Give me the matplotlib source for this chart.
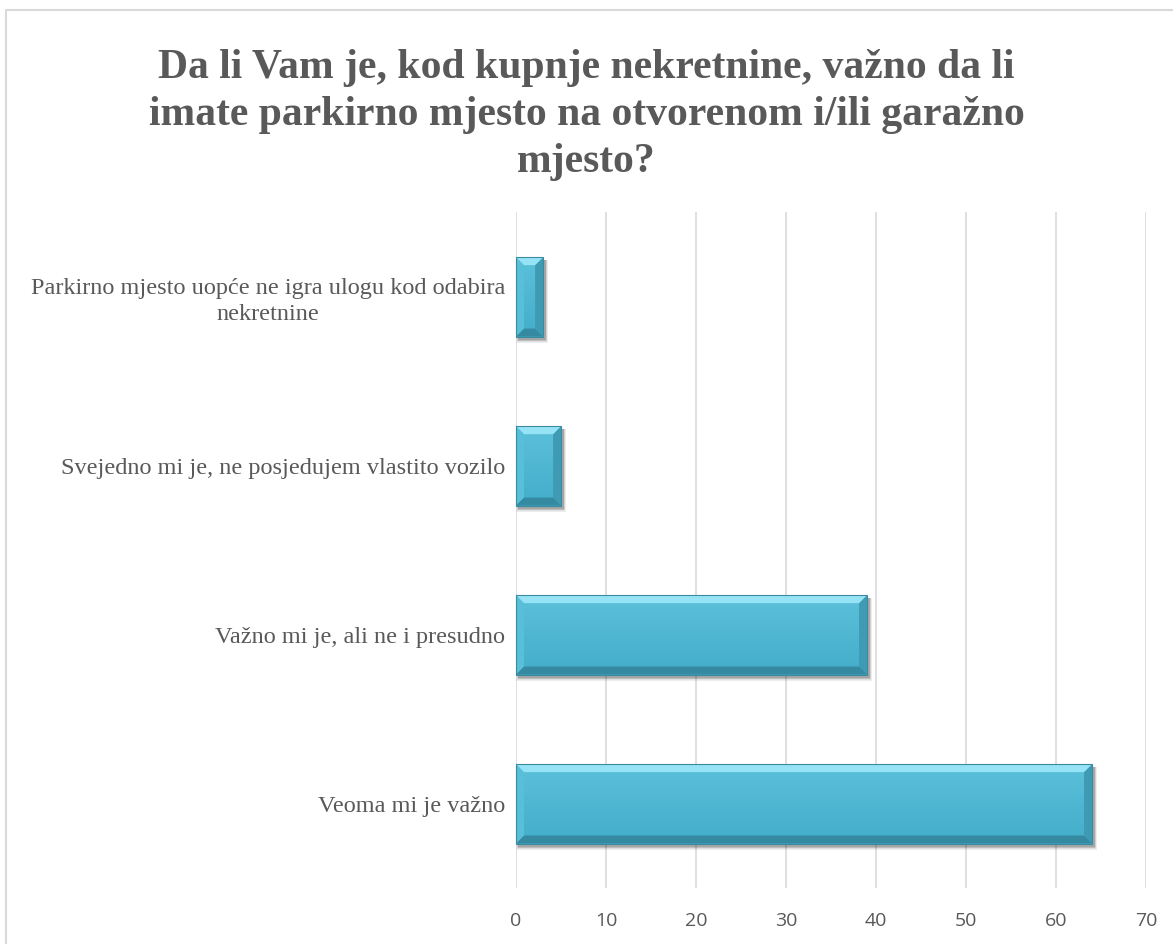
import matplotlib
matplotlib.use("Agg")
import matplotlib.pyplot as plt
from matplotlib.colors import LinearSegmentedColormap
from matplotlib.patches import Polygon, Rectangle
from matplotlib.transforms import IdentityTransform
import numpy as np

# ── data ────────────────────────────────────────────────────────────
TITLE = ("Da li Vam je, kod kupnje nekretnine, važno da li\n"
         "imate parkirno mjesto na otvorenom i/ili garažno\n"
         "mjesto?")
categories = [
    "Veoma mi je važno",
    "Važno mi je, ali ne i presudno",
    "Svejedno mi je, ne posjedujem vlastito vozilo",
    "Parkirno mjesto uopće ne igra ulogu kod odabira\nnekretnine",
]
values = [64, 39, 5, 3]
x_ticks = [0, 10, 20, 30, 40, 50, 60, 70]

TEXT_COLOUR = "#595959"
GRID_COLOUR = "#d9d9d9"
BAR_COLOUR = "#4bb5d2"

fig = plt.figure(figsize=(11.73, 9.44), dpi=100, facecolor="white")
ax = fig.add_axes([0.44, 0.059, 0.537, 0.716])

y = np.arange(len(categories))
bars = ax.barh(y, values, height=0.47, color=BAR_COLOUR, zorder=3)

ax.set_xlim(0, 70)
ax.set_ylim(-0.5, len(categories) - 0.5)
ax.set_xticks(x_ticks)
ax.set_yticks(y)
ax.set_yticklabels(categories, family="Liberation Serif", fontsize=17.5,
                   color=TEXT_COLOUR, multialignment="center", linespacing=1.3)
ax.tick_params(axis="y", length=0, pad=8)
ax.tick_params(axis="x", length=0, pad=17, labelsize=14, labelcolor=TEXT_COLOUR)
for lbl in ax.get_xticklabels():
    lbl.set_family("Open Sans")
ax.grid(axis="x", color=GRID_COLOUR, lw=1.2, zorder=0)
for s in ax.spines.values():
    s.set_visible(False)

fig.text(0.5, 0.878, TITLE, ha="center", va="center", family="Liberation Serif",
         fontweight="bold", fontsize=30, color=TEXT_COLOUR, linespacing=1.32)

# ── bevelled bars ───────────────────────────────────────────────────
ident = IdentityTransform()
face_cmap = LinearSegmentedColormap.from_list("face", ["#43adca", "#5cc0da"])
for b in bars:
    (x0, y0), (x1, y1) = ax.transData.transform(
        [(b.get_x(), b.get_y()), (b.get_x() + b.get_width(), b.get_y() + b.get_height())])
    b.set_visible(False)
    # soft shadow
    for k, a in zip(range(6, 0, -1), [0.03, 0.04, 0.05, 0.07, 0.09, 0.12]):
        ax.add_artist(Rectangle((x0 + 2 - k * 0.3, y0 - 3 - k * 0.6), (x1 - x0) + k * 0.8,
                                (y1 - y0) + k * 0.6, transform=ident, clip_on=False,
                                facecolor="black", edgecolor="none", alpha=a, zorder=2))
    # face gradient
    grad = np.linspace(0, 1, 64).reshape(-1, 1)
    ax.imshow(grad, cmap=face_cmap, aspect="auto", origin="lower",
              extent=(b.get_x(), b.get_x() + b.get_width(), b.get_y(), b.get_y() + b.get_height()),
              zorder=3)
    bv = 8
    top = [(x0, y1), (x1, y1), (x1 - bv, y1 - bv), (x0 + bv, y1 - bv)]
    bot = [(x0, y0), (x1, y0), (x1 - bv, y0 + bv), (x0 + bv, y0 + bv)]
    lft = [(x0, y0), (x0, y1), (x0 + bv, y1 - bv), (x0 + bv, y0 + bv)]
    rgt = [(x1, y0), (x1, y1), (x1 - bv, y1 - bv), (x1 - bv, y0 + bv)]
    for pts, col in [(lft, "#58bfd9"), (rgt, "#3f9bb4"), (top, "#95e3f4"), (bot, "#358aa1")]:
        ax.add_artist(Polygon(pts, closed=True, transform=ident, clip_on=False,
                              facecolor=col, edgecolor="none", zorder=4))
    ax.add_artist(Rectangle((x0, y0), x1 - x0, y1 - y0, transform=ident, fill=False,
                            clip_on=False, edgecolor="#3a8aa0", lw=0.8, zorder=5))

ax.set_xlim(0, 70)
ax.set_ylim(-0.5, len(categories) - 0.5)

# chart border
fig.add_artist(Rectangle((0.005, -0.05), 1.2, 1.039, transform=fig.transFigure,
                         fill=False, edgecolor="#d9d9d9", lw=1.5))

fig.savefig("out.png", dpi=100, facecolor="white")
